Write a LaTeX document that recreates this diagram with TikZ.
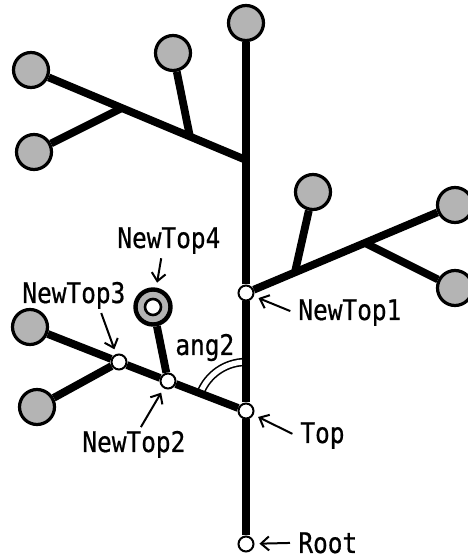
\documentclass[tikz,border=0pt]{standalone}
\usepackage{fontspec}
\setmonofont{DejaVu Sans Mono}[FakeStretch=0.86, FakeBold=0.6]
\usetikzlibrary{arrows.meta}

\definecolor{leafgray}{RGB}{180,180,180}

\tikzset{
  branch/.style={line width=3.9pt},
  leaf/.style={circle, draw, line width=1.6pt, fill=leafgray, minimum size=17.5pt, inner sep=0pt},
  point/.style={circle, draw, line width=1pt, fill=white, minimum size=7.5pt, inner sep=0pt},
  tag/.style={inner sep=0pt, anchor=base west, font=\ttfamily\fontsize{14.2}{16}\selectfont},
  ptr/.style={-{Straight Barb[length=4pt,width=7pt]}, line width=1pt, shorten <=2pt, shorten >=2.5pt},
  angarc/.style={double=white, double distance=2.6pt, line width=0.8pt}
}

\begin{document}
\begin{tikzpicture}[x=0.5pt, y=0.5pt]
\useasboundingbox (0,0) rectangle (467,557);

% points on the stem
\node[point] (root) at (246,13) {};
\node[point] (top) at (246,146) {};
\node[point] (nt1) at (246,264) {};
\node[point] (nt2) at (168,176) {};
\node[point] (nt3) at (119,195) {};
\coordinate (j0) at (246,397);
\coordinate (jA) at (122,449);
\coordinate (jB) at (190,420);
\coordinate (jC) at (295,285);
\coordinate (jD) at (365,314);

% leaves
\node[leaf] (leafT) at (246,534) {};
\node[leaf] (leafA) at (31,487) {};
\node[leaf] (leafB) at (34,405) {};
\node[leaf] (leafC) at (173,504) {};
\node[leaf] (leafD) at (313,365) {};
\node[leaf] (leafE) at (455,352) {};
\node[leaf] (leafF) at (455,269) {};
\node[leaf] (leafG) at (30,230) {};
\node[leaf] (leafH) at (37,150) {};
\node[leaf, line width=2.2pt] (nt4) at (153,250) {};
\node[point, minimum size=8pt, line width=1.3pt] (nt4in) at (nt4) {};

% angle at Top
\draw[angarc] ([shift={(90:49)}]top.center) arc[start angle=90, end angle=158.75, radius=49];

% stem and branches
\draw[branch] (root) -- (top) -- (nt1) -- (leafT);
\draw[branch] (j0) -- (leafA);
\draw[branch] (jA) -- (leafB);
\draw[branch] (jB) -- (leafC);
\draw[branch] (nt1) -- (leafE);
\draw[branch] (jC) -- (leafD);
\draw[branch] (jD) -- (leafF);
\draw[branch] (top) -- (nt2) -- (nt3) -- (leafG);
\draw[branch] (nt2) -- (nt4);
\draw[branch] (nt3) -- (leafH);

% labels
\node[tag] (lNT4) at (117,309) {NewTop4};
\node[tag] (lNT3) at (22,254) {NewTop3};
\node[tag] (lNT2) at (82,105) {NewTop2};
\node[tag] (lNT1) at (298,237) {NewTop1};
\node[tag] (lTop) at (300,114) {Top};
\node[tag] (lRoot) at (298,4) {Root};
\node[tag] (lAng) at (175,202) {ang2};

\draw[ptr] ([xshift=-3.5pt]lNT4.south) -- (nt4);
\draw[ptr] ([xshift=13pt]lNT3.south) -- (nt3);
\draw[ptr] ([xshift=2.5pt]lNT2.north) -- (nt2);
\draw[ptr] ([xshift=-2pt]lNT1.west) -- (nt1);
\draw[ptr] ([xshift=-2pt]lTop.west) -- (top);
\draw[ptr] ([xshift=-2pt]lRoot.west) -- (root);
\end{tikzpicture}
\end{document}
